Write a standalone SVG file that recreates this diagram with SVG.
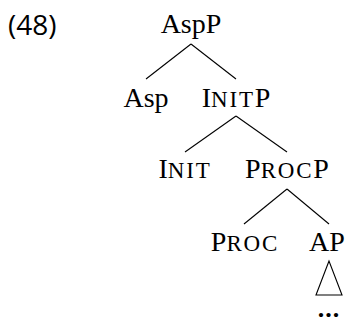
<svg xmlns="http://www.w3.org/2000/svg" width="346" height="322" viewBox="0 0 346 322">
<style>
text{font-family:"Liberation Serif",serif;font-size:28px;fill:#000;text-anchor:middle}
.sc{font-size:23px;letter-spacing:1.8px}
.ex{font-family:"Open Sans",sans-serif;font-size:28px;text-anchor:start}
.dots{font-size:26px;font-weight:bold;letter-spacing:1px}
line,polygon{stroke:#000;stroke-width:1.1;fill:none}
</style>
<text class="ex" x="8" y="35">(48)</text>
<g id="connectors">
<line x1="191" y1="44" x2="146" y2="79"/>
<line x1="191" y1="44" x2="236" y2="79"/>
<line x1="236" y1="116" x2="185" y2="152"/>
<line x1="236" y1="116" x2="287" y2="152"/>
<line x1="287" y1="189" x2="244" y2="224"/>
<line x1="287" y1="189" x2="329" y2="224"/>
<polygon points="329,261 316,295 342,295"/>
</g>
<g id="n-aspp"><text x="191" y="33">AspP</text></g>
<g id="n-asp"><text x="146" y="107">Asp</text></g>
<g id="n-initp"><text x="236" y="107">I<tspan class="sc">NIT</tspan>P</text></g>
<g id="n-init"><text x="185" y="178">I<tspan class="sc">NIT</tspan></text></g>
<g id="n-procp"><text x="287" y="178">P<tspan class="sc">ROC</tspan>P</text></g>
<g id="n-proc"><text x="245" y="251">P<tspan class="sc">ROC</tspan></text></g>
<g id="n-ap"><text x="327" y="251">AP</text></g>
<g id="n-dots"><text class="dots" x="329" y="317">...</text></g>
</svg>
